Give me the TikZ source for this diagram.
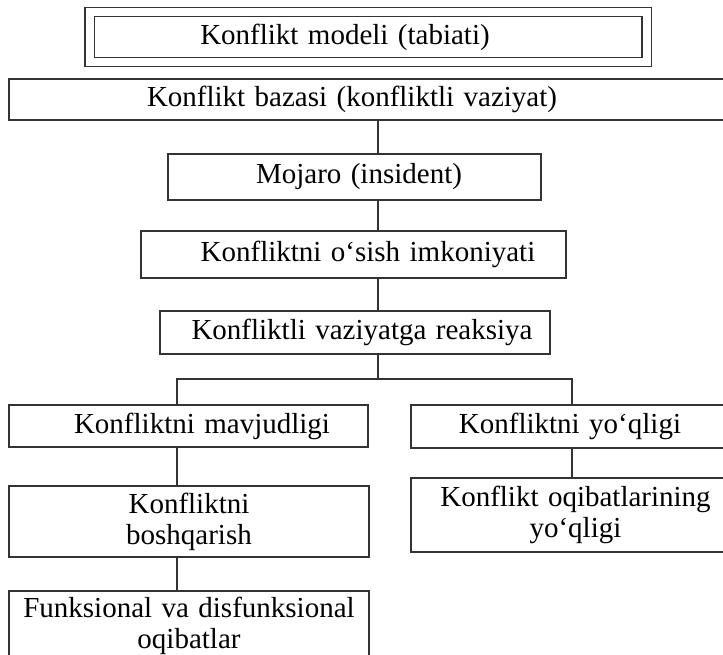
\documentclass[tikz,border=0pt]{standalone}
\usepackage{fontspec}
\setmainfont{Liberation Serif}[WordSpace=1.3]
\usepackage{tikz}
\newcommand{\tsh}[2]{\hspace*{#1}#2}

\begin{document}
\begin{tikzpicture}[x=1pt, y=-1pt, line width=1.1pt,
      box/.style={draw=black!80, inner sep=0pt, align=center, font=\fontsize{29}{31}\selectfont},
      lnk/.style={draw=black!80}]
      \useasboundingbox (0,0) rectangle (723,655);
      \node at (368,37)[box, double, double distance=8pt, minimum width=557pt, minimum height=50pt] (model){\tsh{-46pt}{Konflikt modeli (tabiati)}};
      \node at (374.5,99.5)[box, minimum width=731pt, minimum height=41pt] (baza){\tsh{-45pt}{Konflikt bazasi (konfliktli vaziyat)}};
      \node at (354.5,177)[box, minimum width=373pt, minimum height=46pt] (mojaro){\tsh{9pt}{Mojaro (insident)}};
      \node at (353.5,254.5)[box, minimum width=425pt, minimum height=47pt] (osish){\tsh{29pt}{Konfliktni o‘sish imkoniyati}};
      \node at (355,332.5)[box, minimum width=390pt, minimum height=43pt] (reak){\tsh{14pt}{Konfliktli vaziyatga reaksiya}};
      \node at (188.5,426)[box, minimum width=359pt, minimum height=42pt] (mavj){\tsh{27pt}{Konfliktni mavjudligi}};
      \node at (575.5,426.5)[box, minimum width=329pt, minimum height=43pt] (yoql){\tsh{-11pt}{Konfliktni yo‘qligi}};
      \node at (189,521.5)[box, minimum width=360pt, minimum height=71pt] (boshq){Konfliktni\\boshqarish};
      \node at (575.5,515)[box, minimum width=329pt, minimum height=74pt] (oqib){Konflikt oqibatlarining\\yo‘qligi};
      \node at (189,626)[box, minimum width=360pt, minimum height=70pt] (funk){Funksional va disfunksional\\oqibatlar};
      \coordinate (c1) at (378,379);
      \coordinate (jl) at (177,379);
      \coordinate (jr) at (572,379);
      \draw[lnk] (baza.south -| c1) -- (mojaro.north -| c1);
      \draw[lnk] (mojaro.south -| c1) -- (osish.north -| c1);
      \draw[lnk] (osish.south -| c1) -- (reak.north -| c1);
      \draw[lnk] (reak.south -| c1) -- (c1);
      \draw[lnk] (jl |- mavj.north) -- (jl) -- (jr) -- (jr |- yoql.north);
      \draw[lnk] (mavj.south -| jl) -- (boshq.north -| jl);
      \draw[lnk] (boshq.south -| jl) -- (funk.north -| jl);
      \draw[lnk] (yoql.south -| jr) -- (oqib.north -| jr);
\end{tikzpicture}
\end{document}
